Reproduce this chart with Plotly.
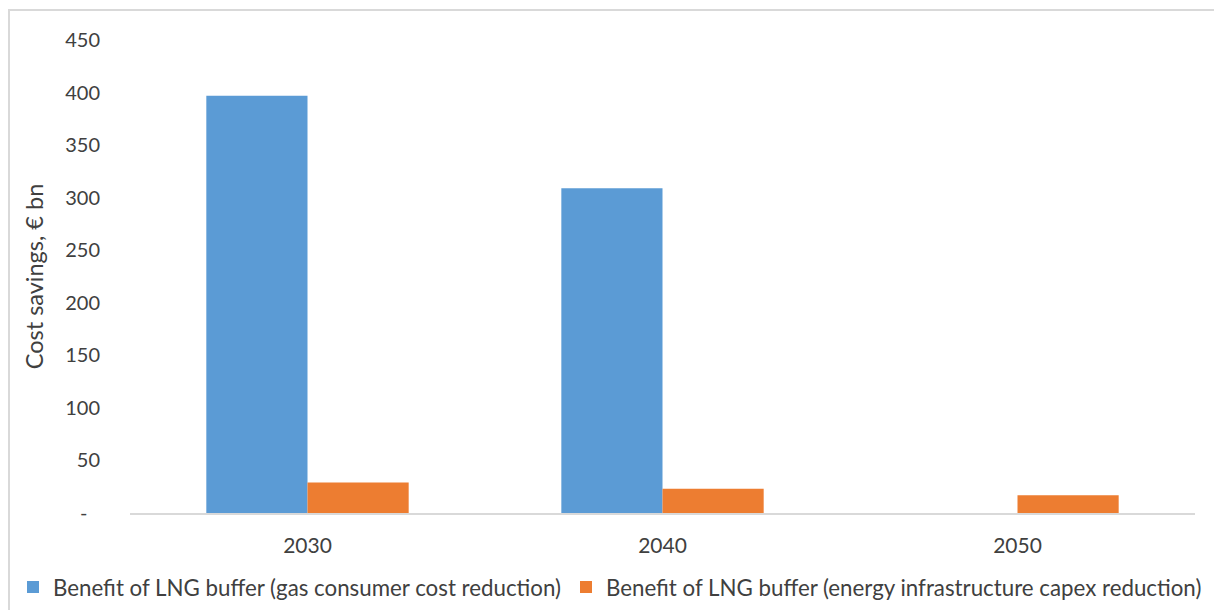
import plotly.graph_objects as go

# Cost savings of an LNG buffer, € bn
years = ["2030", "2040", "2050"]
consumer_cost_reduction = [397, 309, 0]
infrastructure_capex_reduction = [29, 23, 17]

series_names = [
    "Benefit of LNG buffer (gas consumer cost reduction)",
    "Benefit of LNG buffer (energy infrastructure capex reduction)",
]

y_tick_values = [0, 50, 100, 150, 200, 250, 300, 350, 400, 450]
y_tick_labels = ["-\u2002\u2009", "50", "100", "150", "200", "250", "300", "350", "400", "450"]

BLUE = "#5B9BD5"
ORANGE = "#ED7D31"
TEXT = "#404040"
FONT = "Lato, 'Open Sans', sans-serif"

fig = go.Figure()
fig.add_trace(go.Bar(
    x=years, y=consumer_cost_reduction, name=series_names[0],
    marker=dict(color=BLUE, line=dict(width=0)),
))
fig.add_trace(go.Bar(
    x=years, y=infrastructure_capex_reduction, name=series_names[1],
    marker=dict(color=ORANGE, line=dict(width=0)),
))

# plot area geometry (px) used to place the outer frame and legend
L, R, T, B = 130, 19, 40, 97
W, H = 1214, 610
pw, ph = W - L - R, H - T - B

def px_x(x):
    return (x - L) / pw

def px_y(y):
    return (H - B - y) / ph

fig.update_layout(
    width=W, height=H,
    margin=dict(l=L, r=R, t=T, b=B, autoexpand=False),
    paper_bgcolor="white", plot_bgcolor="white",
    font=dict(family=FONT, size=21, color=TEXT),
    barmode="group", bargap=0.43, bargroupgap=0,
    showlegend=True,
    legend=dict(
        orientation="h", x=px_x(13), xanchor="left",
        y=px_y(587), yanchor="middle",
        font=dict(family=FONT, size=22.3, color=TEXT),
        bgcolor="rgba(0,0,0,0)", itemclick=False,
    ),
    xaxis=dict(
        showgrid=False, zeroline=False, showline=True,
        linecolor="#d9d9d9", linewidth=2,
        ticks="", ticklabelstandoff=13,
        tickfont=dict(size=21, color=TEXT),
    ),
    yaxis=dict(
        range=[0, 450], tickvals=y_tick_values, ticktext=y_tick_labels,
        showgrid=False, zeroline=False, showline=False,
        ticks="", ticklabelstandoff=29,
        tickfont=dict(size=20, color=TEXT),
        title=dict(text="Cost savings, € bn", standoff=14,
                   font=dict(size=23.5, color=TEXT)),
    ),
    shapes=[dict(
        type="rect", xref="paper", yref="paper",
        x0=px_x(9), x1=px_x(1230), y0=px_y(630), y1=px_y(10),
        line=dict(color="#d9d9d9", width=2), fillcolor="rgba(0,0,0,0)",
        layer="below",
    )],
)

fig.write_html("out.html")
